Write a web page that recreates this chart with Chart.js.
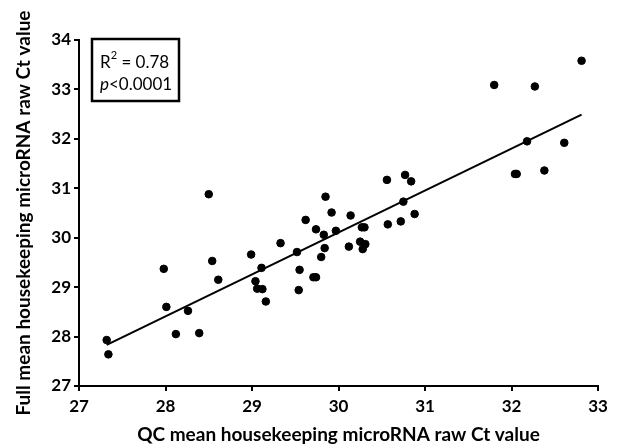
<!DOCTYPE html>
<html>
<head>
<meta charset="utf-8">
<script src="https://cdn.jsdelivr.net/npm/chart.js@4.4.1/dist/chart.umd.min.js"></script>
<style>
  html, body { margin: 0; padding: 0; background: #fff; }
  #wrap { width: 623px; height: 448px; position: relative; }
</style>
</head>
<body>
<div id="wrap"><canvas id="chart"></canvas></div>
<script>
// QC mean (x) vs full mean (y) housekeeping microRNA raw Ct
const qcMean = [
  27.32, 27.34, 27.98, 28.01, 28.12, 28.26, 28.39, 28.50, 28.54, 28.61,
  28.99, 29.04, 29.06, 29.11, 29.12, 29.16, 29.33, 29.52, 29.55, 29.54,
  29.62, 29.71, 29.74, 29.74, 29.80, 29.83, 29.85, 29.84, 29.92, 29.97,
  30.12, 30.14, 30.25, 30.31, 30.28, 30.27, 30.30, 30.56, 30.57, 30.72,
  30.77, 30.84, 30.75, 30.88, 31.80, 32.27, 32.81, 32.18, 32.61, 32.04,
  32.06, 32.38
];
const fullMean = [
  27.93, 27.64, 29.37, 28.60, 28.05, 28.52, 28.07, 30.88, 29.53, 29.15,
  29.66, 29.12, 28.97, 29.39, 28.96, 28.71, 29.89, 29.71, 29.35, 28.94,
  30.36, 29.20, 29.20, 30.17, 29.61, 30.06, 30.83, 29.79, 30.51, 30.14,
  29.82, 30.45, 29.92, 29.87, 29.77, 30.21, 30.21, 31.17, 30.27, 30.33,
  31.27, 31.14, 30.73, 30.48, 33.09, 33.06, 33.58, 31.95, 31.92, 31.29,
  31.29, 31.36
];
// fitted line end points (x, y) as drawn
const fitX = [27.32, 32.81];
const fitY = [27.83, 32.49];
const xTicks = [27, 28, 29, 30, 31, 32, 33];
const yTicks = [27, 28, 29, 30, 31, 32, 33, 34];

const FONT = 'Lato';

const points = qcMean.map((x, i) => ({ x: x, y: fullMean[i] }));
const fitLine = fitX.map((x, i) => ({ x: x, y: fitY[i] }));

// stats box in the upper left corner
const statsBox = {
  id: 'statsBox',
  afterDraw(chart) {
    const ctx = chart.ctx;
    const a = chart.chartArea;
    const x0 = a.left + 13, y0 = a.top - 1, w = 87, h = 62;
    ctx.save();
    ctx.strokeStyle = '#000';
    ctx.lineWidth = 2.5;
    ctx.strokeRect(x0, y0, w, h);
    ctx.fillStyle = '#000';
    ctx.textBaseline = 'alphabetic';
    ctx.textAlign = 'left';
    ctx.font = '17px ' + FONT;
    let tx = x0 + 8;
    ctx.fillText('R', tx, y0 + 29);
    tx += ctx.measureText('R').width;
    ctx.font = '11px ' + FONT;
    ctx.fillText('2', tx, y0 + 20);
    tx += ctx.measureText('2').width;
    ctx.font = '17px ' + FONT;
    ctx.fillText(' = 0.78', tx, y0 + 29);
    tx = x0 + 8;
    ctx.font = 'italic 17px ' + FONT;
    ctx.fillText('p', tx, y0 + 51);
    tx += ctx.measureText('p').width;
    ctx.font = '17px ' + FONT;
    ctx.fillText('<0.0001', tx, y0 + 51);
    ctx.restore();
  }
};

new Chart(document.getElementById('chart'), {
  type: 'scatter',
  data: {
    datasets: [
      {
        label: 'Samples',
        data: points,
        backgroundColor: '#000',
        borderColor: '#000',
        pointRadius: 3.8,
        pointHoverRadius: 3.8,
        clip: false
      },
      {
        type: 'line',
        label: 'Fit',
        data: fitLine,
        borderColor: '#000',
        borderWidth: 2,
        pointRadius: 0,
        fill: false
      }
    ]
  },
  options: {
    responsive: true,
    maintainAspectRatio: false,
    animation: false,
    layout: { padding: { top: 40, right: 25, left: 0, bottom: 0 } },
    plugins: {
      legend: { display: false },
      tooltip: { enabled: false }
    },
    scales: {
      x: {
        type: 'linear',
        min: 27,
        max: 33,
        afterBuildTicks: (s) => { s.ticks = xTicks.map(v => ({ value: v })); },
        afterFit: (s) => { s.height = 62; },
        border: { display: true, color: '#000', width: 2 },
        grid: { display: true, drawOnChartArea: false, drawTicks: true, tickLength: 5, color: '#000', lineWidth: 2 },
        ticks: { color: '#000', padding: 5, font: { family: FONT, size: 17, weight: 'bold' } },
        title: {
          display: true,
          text: 'QC mean housekeeping microRNA raw Ct value',
          color: '#000',
          font: { family: FONT, size: 19, weight: 'bold' },
          padding: { top: 0, bottom: 2 }
        }
      },
      y: {
        type: 'linear',
        min: 27,
        max: 34,
        afterBuildTicks: (s) => { s.ticks = yTicks.map(v => ({ value: v })); },
        afterFit: (s) => { s.width = 79; },
        border: { display: true, color: '#000', width: 2 },
        grid: { display: true, drawOnChartArea: false, drawTicks: true, tickLength: 5, color: '#000', lineWidth: 2 },
        ticks: { color: '#000', padding: 3, font: { family: FONT, size: 17, weight: 'bold' } },
        title: {
          display: true,
          text: 'Full mean housekeeping microRNA raw Ct value',
          color: '#000',
          font: { family: FONT, size: 19, weight: 'bold' },
          padding: { top: 12, bottom: 0 }
        }
      }
    }
  },
  plugins: [statsBox]
});
</script>
</body>
</html>
